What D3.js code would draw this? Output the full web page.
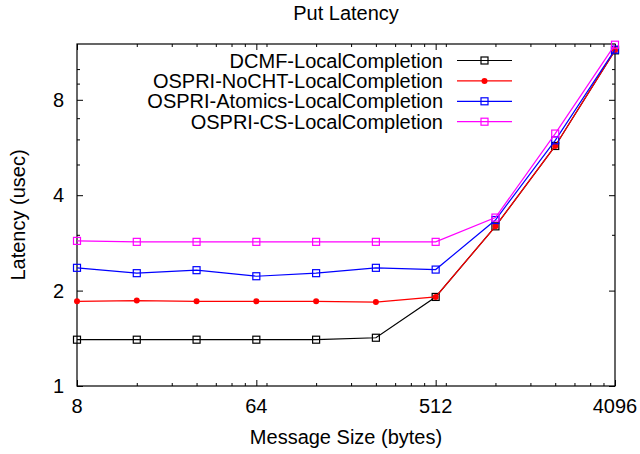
<!DOCTYPE html>
<html>
<head>
<meta charset="utf-8">
<script src="https://cdn.jsdelivr.net/npm/d3@7"></script>
<style>
    body { margin: 0; background: #fff; }
    text { font-family: "Liberation Sans", Arial, sans-serif; font-size: 20px; fill: #000; }
</style>
</head>
<body>
<div id="chart"></div>
<script>
//DATA
let sizes = [8, 16, 32, 64, 128, 256, 512, 1024, 2048, 4096];
let dcmf = [1.40, 1.40, 1.40, 1.40, 1.40, 1.42, 1.91, 3.19, 5.72, 11.46];
let nocht = [1.85, 1.86, 1.85, 1.85, 1.85, 1.84, 1.91, 3.19, 5.72, 11.46];
let atomics = [2.36, 2.27, 2.32, 2.22, 2.27, 2.36, 2.33, 3.34, 5.96, 11.52];
let cs = [2.87, 2.85, 2.85, 2.85, 2.85, 2.85, 2.85, 3.40, 6.26, 11.94];
let seriesNames = ['DCMF-LocalCompletion', 'OSPRI-NoCHT-LocalCompletion', 'OSPRI-Atomics-LocalCompletion', 'OSPRI-CS-LocalCompletion'];
let xMajor = [8, 64, 512, 4096];
let xMinor = [16, 24, 32, 40, 48, 56, 72, 128, 192, 256, 320, 384, 448, 576, 1024, 1536, 2048, 2560, 3072, 3584];
let yMajor = [1, 2, 4, 8];
let yMinor = [3, 5, 6, 7, 9, 10];
let yMax = 12;

let colors = ['#000000', '#ff0000', '#0000ff', '#ff00ff'];
let symbols = ['square', 'circle', 'square', 'square'];

//CHART
let width = 640, height = 454;
let margin = {top: 44, right: 25, bottom: 68, left: 77};
let w = width - margin.left - margin.right,
    h = height - margin.top - margin.bottom;

let svg = d3.select('#chart').append('svg')
    .attr('width', width)
    .attr('height', height);

let chart = svg.append('g')
    .attr('transform', 'translate(' + margin.left + ',' + margin.top + ')');

let x = d3.scaleLog().base(2).domain([8, 4096]).range([0, w]);
let y = d3.scaleLog().base(2).domain([1, yMax]).range([h, 0]);

//Ticks (gnuplot style: inside, mirrored)
function tickAxis(axisFn, scale, values, size, label) {
    return function(g) {
        g.call(axisFn(scale).tickValues(values).tickSize(size).tickFormat(label ? d3.format('d') : ''));
        g.select('.domain').remove();
        g.selectAll('text').remove();
    };
}

chart.append('g').attr('transform', 'translate(0,' + h + ')').call(tickAxis(d3.axisTop, x, xMajor, 6));
chart.append('g').attr('transform', 'translate(0,' + h + ')').call(tickAxis(d3.axisTop, x, xMinor, 3));
chart.append('g').call(tickAxis(d3.axisBottom, x, xMajor, 6));
chart.append('g').call(tickAxis(d3.axisBottom, x, xMinor, 3));
chart.append('g').call(tickAxis(d3.axisRight, y, yMajor, 6));
chart.append('g').call(tickAxis(d3.axisRight, y, yMinor, 3));
chart.append('g').attr('transform', 'translate(' + w + ',0)').call(tickAxis(d3.axisLeft, y, yMajor, 6));
chart.append('g').attr('transform', 'translate(' + w + ',0)').call(tickAxis(d3.axisLeft, y, yMinor, 3));
chart.selectAll('.tick line').attr('stroke', '#000').attr('stroke-width', 1);

//Tick labels
chart.selectAll('.xlab')
    .data(xMajor)
    .enter()
    .append('text')
    .attr('x', function(d) { return x(d); })
    .attr('y', h + 27)
    .attr('text-anchor', 'middle')
    .text(function(d) { return d; });

chart.selectAll('.ylab')
    .data(yMajor)
    .enter()
    .append('text')
    .attr('x', -13)
    .attr('y', function(d) { return y(d) + 7; })
    .attr('text-anchor', 'end')
    .text(function(d) { return d; });

//Border
chart.append('rect')
    .attr('width', w)
    .attr('height', h)
    .attr('fill', 'none')
    .attr('stroke', '#000')
    .attr('stroke-width', 1.2);

//Titles
svg.append('text')
    .attr('x', margin.left + w / 2)
    .attr('y', 20)
    .attr('text-anchor', 'middle')
    .text('Put Latency');

svg.append('text')
    .attr('x', margin.left + w / 2)
    .attr('y', 444)
    .attr('text-anchor', 'middle')
    .text('Message Size (bytes)');

svg.append('text')
    .attr('transform', 'translate(25,' + (margin.top + h / 2) + ') rotate(-90)')
    .attr('text-anchor', 'middle')
    .text('Latency (usec)');

//Lines
let allSeries = [dcmf, nocht, atomics, cs];
let nested = allSeries.map(function(vals, i) {
    return {
        key: seriesNames[i],
        color: colors[i],
        symbol: symbols[i],
        data: sizes.map(function(s, j) { return {size: s, value: vals[j]}; })
    };
});

let line = d3.line()
    .x(function(d) { return x(d.size); })
    .y(function(d) { return y(d.value); });

function drawMarker(g, cx, cy, s) {
    if (s.symbol == 'circle') {
        g.append('circle')
            .attr('cx', cx).attr('cy', cy).attr('r', 3)
            .attr('fill', s.color);
    } else {
        g.append('rect')
            .attr('x', cx - 3.5).attr('y', cy - 3.5)
            .attr('width', 7).attr('height', 7)
            .attr('fill', 'none')
            .attr('stroke', s.color)
            .attr('stroke-width', 1.2);
    }
}

nested.forEach(function(s) {
    chart.append('path')
        .attr('fill', 'none')
        .attr('stroke', s.color)
        .attr('stroke-width', 1.2)
        .attr('d', line(s.data));
    let g = chart.append('g');
    s.data.forEach(function(d) {
        drawMarker(g, x(d.size), y(d.value), s);
    });
});

//Legend
let legend = svg.append('g');
nested.forEach(function(s, i) {
    let ly = 60.5 + i * 20.4;
    legend.append('text')
        .attr('x', 443)
        .attr('y', ly + 7)
        .attr('text-anchor', 'end')
        .text(s.key);
    legend.append('line')
        .attr('x1', 457).attr('x2', 512)
        .attr('y1', ly).attr('y2', ly)
        .attr('stroke', s.color)
        .attr('stroke-width', 1.2);
    drawMarker(legend, 484.5, ly, s);
});
</script>
</body>
</html>
